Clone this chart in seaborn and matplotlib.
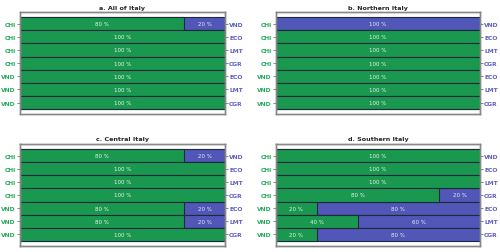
import matplotlib
matplotlib.use("Agg")
import matplotlib.pyplot as plt
import seaborn as sns
import pandas as pd

sns.set_style("white")
plt.rcParams['font.family'] = ['DejaVu Sans']

titles = ["a. All of Italy", "b. Northern Italy", "c. Central Italy", "d. Southern Italy"]
left_labels = ["CHI", "CHI", "CHI", "CHI", "VND", "VND", "VND"]
right_labels = ["VND", "ECO", "LMT", "CGR", "ECO", "LMT", "CGR"]
green_all = [80, 100, 100, 100, 100, 100, 100]
green_north = [0, 100, 100, 100, 100, 100, 100]
green_central = [80, 100, 100, 100, 80, 80, 100]
green_south = [100, 100, 100, 80, 20, 40, 20]
panels = [green_all, green_north, green_central, green_south]

GREEN = "#1a9850"
BLUE = "#5157b6"
GLAB = "#26a85e"
BLAB = "#5d5fc4"
EDGE = "#1c2b3a"

fig = plt.figure(figsize=(5.0, 2.53), dpi=100)
rects = [(0.04, 0.545, 0.41, 0.403), (0.552, 0.545, 0.408, 0.403),
         (0.04, 0.024, 0.41, 0.403), (0.552, 0.024, 0.408, 0.403)]

for rect, title, green in zip(rects, titles, panels):
    ax = fig.add_axes(rect)
    n = len(green)
    rows = [f"r{i}" for i in range(n)]
    df = pd.DataFrame({"row": rows, "green": green, "total": [100] * n})
    sns.barplot(data=df, y="row", x="total", orient="h", color=BLUE, width=1.0,
                edgecolor=EDGE, linewidth=0.8, saturation=1, ax=ax)
    sns.barplot(data=df, y="row", x="green", orient="h", color=GREEN, width=1.0,
                edgecolor=EDGE, linewidth=0.8, saturation=1, ax=ax)
    for i, g in enumerate(green):
        b = 100 - g
        if g > 0:
            ax.text(g / 2, i, f"{g} %", ha="center", va="center", color="#e8f3ec", fontsize=4)
        if b > 0:
            ax.text(g + b / 2, i, f"{b} %", ha="center", va="center", color="#e8e8f6", fontsize=4)
    ax.set_xlim(0, 100)
    ax.set_ylim(n - 1 + 0.88, -0.88)
    ax.set_xlabel("")
    ax.set_ylabel("")
    ax.set_xticks([])
    ax.set_yticks(range(n))
    ax.set_yticklabels(left_labels, color=GLAB, fontsize=4.3, fontweight="bold")
    ax.tick_params(axis="y", left=True, length=2, width=0.5, pad=1, color="#555555")
    for s in ax.spines.values():
        s.set_color("#888888")
        s.set_linewidth(1.0)
    ax.set_title(title, fontsize=4.6, fontweight="bold", pad=2.5)
    ax2 = ax.twinx()
    ax2.set_ylim(ax.get_ylim())
    ax2.set_yticks(range(n))
    ax2.set_yticklabels(right_labels, color=BLAB, fontsize=4.3, fontweight="bold")
    ax2.tick_params(axis="y", right=True, length=2, width=0.5, pad=1, color="#555555")
    for s in ax2.spines.values():
        s.set_color("#888888")
        s.set_linewidth(1.0)

fig.savefig("out.png", dpi=100)
